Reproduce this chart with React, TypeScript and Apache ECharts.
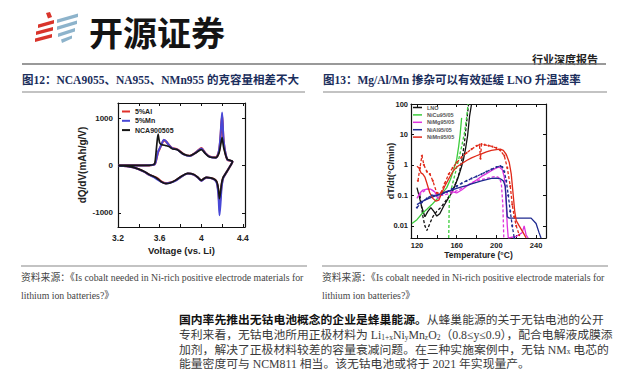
import React, { useEffect, useRef } from "react";
import * as echarts from "echarts";

// ---------- Figure 12 data (dQ/dV vs voltage) ----------
const chargeV = [3.2, 3.3, 3.4, 3.5, 3.55, 3.56, 3.57, 3.585, 3.6, 3.62, 3.64, 3.66, 3.69, 3.72, 3.77, 3.83, 3.89, 3.95, 4.0, 4.04, 4.08, 4.14, 4.17, 4.185, 4.2, 4.215, 4.25, 4.3];
const alCharge = [0, 0, 0, 3, 20, 60, 150, 280, 350, 450, 530, 510, 430, 370, 340, 240, 205, 280, 365, 260, 190, 170, 300, 600, 1060, 500, 120, 85];
const mnCharge = [0, 0, 0, 3, 20, 60, 150, 290, 360, 460, 545, 515, 430, 365, 335, 235, 200, 275, 360, 255, 185, 165, 320, 650, 1120, 520, 125, 85];
const ncaCharge = [0, 0, 0, 3, 30, 150, 380, 662, 480, 440, 430, 420, 400, 355, 330, 240, 205, 270, 335, 250, 180, 165, 260, 420, 590, 380, 130, 85];

const dischargeV = [4.3, 4.27, 4.24, 4.21, 4.195, 4.185, 4.175, 4.165, 4.15, 4.13, 4.09, 4.05, 4.02, 4.0, 3.97, 3.93, 3.87, 3.81, 3.75, 3.7, 3.66, 3.62, 3.58, 3.54, 3.5, 3.45, 3.4, 3.35, 3.3, 3.25, 3.2];
const alDischarge = [85, -40, -150, -260, -420, -620, -850, -560, -360, -300, -265, -255, -290, -320, -260, -195, -170, -232, -320, -360, -375, -345, -275, -235, -195, -130, -80, -42, -20, -10, -5];
const mnDischarge = [85, -40, -150, -270, -480, -800, -1050, -640, -380, -305, -268, -255, -292, -325, -262, -198, -172, -235, -325, -365, -380, -350, -300, -240, -198, -132, -82, -44, -21, -10, -5];
const ncaDischarge = [85, -40, -150, -250, -380, -560, -700, -500, -350, -295, -262, -250, -285, -315, -255, -190, -168, -228, -315, -370, -385, -350, -280, -230, -190, -125, -78, -40, -18, -9, -4];

const voltTicks = [3.2, 3.4, 3.6, 3.8, 4.0, 4.2, 4.4];
const voltLabels = [3.2, 3.6, 4.0, 4.4];
const dqdvLabels = [-1000, 0, 1000];

// ---------- Figure 13 data (dT/dt vs temperature) ----------
const lnoT = [120, 122, 125, 128, 131, 134, 137, 140, 143, 147, 151, 155, 158, 161, 163, 165, 167, 169, 171, 173, 175];
const lnoV = [0.18, 0.1, 0.04, 0.02, 0.03, 0.04, 0.03, 0.021, 0.025, 0.045, 0.075, 0.12, 0.2, 0.35, 0.55, 0.9, 1.6, 3.5, 9, 40, 100];
const lnoDT = [123, 126, 128, 130, 133, 136, 140, 144, 148, 152, 156, 160, 163, 166, 168, 170, 172];
const lnoDV = [0.1, 0.02, 0.01, 0.007, 0.012, 0.02, 0.03, 0.04, 0.06, 0.09, 0.15, 0.3, 0.6, 2, 6, 25, 100];

const cuT = [115, 120, 125, 130, 135, 140, 145, 150, 154, 157, 160, 162, 163.5, 165];
const cuV = [0.012, 0.016, 0.025, 0.035, 0.05, 0.075, 0.11, 0.18, 0.35, 0.7, 1.5, 4, 10, 35];
const cuDT = [152, 152.5, 153, 156, 159, 162, 165, 168, 170, 171.5];
const cuDV = [0.004, 0.05, 0.1, 0.25, 0.6, 1.5, 4, 12, 35, 100];

const mgT = [120, 123, 126, 130, 134, 138, 141, 144, 148, 152, 156, 160, 165, 170, 175, 180, 185, 190, 195, 200, 203, 206, 208, 209.5, 211, 212, 220, 226, 228, 230, 232];
const mgV = [0.08, 0.12, 0.15, 0.16, 0.16, 0.13, 0.08, 0.1, 0.13, 0.14, 0.13, 0.12, 0.15, 0.2, 0.25, 0.32, 0.42, 0.52, 0.65, 0.8, 0.85, 0.7, 0.4, 0.1, 0.01, 0.004, 0.0045, 0.006, 0.01, 0.005, 0.004];
const mgDT = [122, 126, 130, 135, 140, 145, 150, 155, 160, 165, 170, 175, 180, 185, 190, 195, 200, 203, 205, 206.5, 207.5];
const mgDV = [0.1, 0.13, 0.16, 0.15, 0.12, 0.1, 0.11, 0.12, 0.14, 0.17, 0.21, 0.26, 0.3, 0.33, 0.36, 0.4, 0.42, 0.38, 0.25, 0.05, 0.004];

const alT = [120, 124, 128, 132, 136, 140, 145, 150, 155, 160, 165, 170, 175, 180, 185, 190, 195, 200, 204, 207, 209, 211, 213, 235, 240, 243, 245];
const alV = [0.05, 0.06, 0.07, 0.08, 0.09, 0.1, 0.12, 0.13, 0.15, 0.17, 0.19, 0.21, 0.24, 0.27, 0.3, 0.33, 0.36, 0.37, 0.35, 0.3, 0.2, 0.02, 0.018, 0.018, 0.012, 0.006, 0.004];
const alDT = [120, 125, 130, 135, 140, 145, 150, 155, 160, 165, 170, 175, 180, 185, 190, 195, 200, 204, 206, 208, 210, 212, 214, 216, 218];
const alDV = [0.04, 0.06, 0.08, 0.1, 0.1, 0.11, 0.13, 0.16, 0.2, 0.25, 0.3, 0.36, 0.42, 0.5, 0.6, 0.72, 0.85, 0.92, 0.85, 0.6, 0.3, 0.1, 0.03, 0.01, 0.004];

const mnT = [120, 122, 124, 126, 128, 130, 133, 136, 139, 142, 145, 148, 152, 156, 160, 165, 170, 175, 180, 185, 190, 195, 200, 204, 207, 210, 213, 215, 217, 218.5, 220, 223, 227, 230];
const mnV = [0.9, 0.8, 0.55, 0.5, 0.4, 0.25, 0.12, 0.08, 0.065, 0.07, 0.12, 0.2, 0.35, 0.6, 0.85, 1.1, 1.4, 1.7, 2.0, 2.3, 2.7, 3.0, 3.2, 3.3, 3.0, 2.2, 1.2, 0.5, 0.1, 0.03, 0.015, 0.01, 0.006, 0.004];
const mnDT = [121, 123, 125, 127, 130, 133, 136, 140, 144, 148, 152, 156, 160, 165, 170, 175, 180, 183, 184, 185, 188, 192, 196, 200, 204, 208, 211, 214, 216, 218, 220, 223];
const mnDV = [0.3, 0.8, 2.0, 1.0, 0.6, 0.5, 0.3, 0.12, 0.12, 0.25, 0.5, 0.8, 1.2, 1.8, 2.5, 3.3, 4.2, 4.6, 1.6, 4.8, 4.6, 4.3, 4.0, 3.6, 3.0, 2.0, 0.8, 0.2, 0.05, 0.02, 0.01, 0.005];

const tempTicks = [120, 140, 160, 180, 200, 220, 240];
const tempLabels = [120, 160, 200, 240];
const rateLabels = [0.01, 0.1, 1, 10, 100];

// ---------- text ----------
const title12 = "图12：NCA9055、NA955、NMn955 的克容量相差不大";
const title13 = "图13：Mg/Al/Mn 掺杂可以有效延缓 LNO 升温速率";
const source1 = "资料来源：《Is cobalt needed in Ni-rich positive electrode materials for";
const source2 = "lithium ion batteries?》";

const SANS = "'Liberation Sans', Arial, sans-serif";
const SERIF_CJK = "'Liberation Serif', 'Noto Sans CJK SC', serif";
const CJK = "'Noto Sans CJK SC', sans-serif";

const pairs = (xs: number[], ys: number[]) => xs.map((x, i) => [x, ys[i]]);

function App() {
  const ref = useRef<HTMLDivElement>(null);
  useEffect(() => {
    if (!ref.current) return;
    const chart = echarts.init(ref.current, null, { renderer: "svg" });

    const axisLine = { show: true, onZero: false, lineStyle: { color: "#111", width: 1.2 } };
    const tickStyle = { color: "#111", width: 1 };

    const leftSeries = (name: string, color: string, cy: number[], dy: number[], w: number) => ({
      name,
      type: "line",
      xAxisIndex: 0,
      yAxisIndex: 0,
      data: pairs(chargeV, cy).concat(pairs(dischargeV, dy)),
      showSymbol: false,
      smooth: 0.25,
      color,
      itemStyle: { color },
      lineStyle: { color, width: w },
    });

    const rightSeries = (name: string, color: string, xs: number[], ys: number[], dashed: boolean, dots = false) => ({
      name,
      type: "line",
      xAxisIndex: 2,
      yAxisIndex: 2,
      data: pairs(xs, ys),
      showSymbol: dots,
      symbol: "circle",
      symbolSize: 2,
      color,
      itemStyle: { color },
      lineStyle: { color, width: 1.3, type: dashed ? [3, 2] : "solid" },
    });

    const cLno = "#111111", cCu = "#3ccc3c", cMg = "#dd33dd", cAl = "#1f2a90", cMn = "#e02a1a";

    const xBase = (grid: number, min: number, max: number, ticks: number[]) => ({
      gridIndex: grid,
      type: "value",
      min,
      max,
      axisLine,
      splitLine: { show: false },
      axisTick: { show: true, inside: true, length: 3, customValues: ticks, lineStyle: tickStyle },
    });

    const option: any = {
      animation: false,
      backgroundColor: "#ffffff",
      grid: [
        { left: 118, top: 103, width: 127, height: 124, outerBoundsMode: "none" },
        { left: 411, top: 104, width: 135, height: 134, outerBoundsMode: "none" },
      ],
      xAxis: [
        {
          ...xBase(0, 3.2, 4.42, voltTicks),
          position: "bottom",
          axisLabel: {
            customValues: voltLabels,
            formatter: (v: number) => String(Math.round(v * 10) / 10),
            fontSize: 8.5, fontWeight: "bold", color: "#222", fontFamily: SANS, margin: 6,
          },
          name: "Voltage (vs. Li)",
          nameLocation: "middle",
          nameGap: 18,
          nameMoveOverlap: false,
          nameTextStyle: { fontSize: 9.5, fontWeight: "bold", color: "#222", fontFamily: SANS },
        },
        { ...xBase(0, 3.2, 4.42, voltTicks), position: "top", axisLabel: { show: false } },
        {
          ...xBase(1, 114, 250, tempTicks),
          position: "bottom",
          axisLabel: {
            customValues: tempLabels,
            formatter: (v: number) => String(v),
            fontSize: 7.5, fontWeight: "bold", color: "#222", fontFamily: SANS, margin: 3,
          },
          name: "Temperature (°C)",
          nameLocation: "middle",
          nameGap: 12,
          nameMoveOverlap: false,
          nameTextStyle: { fontSize: 8.5, fontWeight: "bold", color: "#222", fontFamily: SANS },
        },
        { ...xBase(1, 114, 250, tempTicks), position: "top", axisLabel: { show: false } },
      ],
      yAxis: [
        {
          ...xBase(0, -1300, 1320, dqdvLabels),
          position: "left",
          axisLabel: {
            customValues: dqdvLabels,
            formatter: (v: number) => String(v),
            fontSize: 8, fontWeight: "bold", color: "#222", fontFamily: SANS, margin: 5,
          },
          name: "dQ/dV(mAh/g/V)",
          nameLocation: "middle",
          nameGap: 31,
          nameMoveOverlap: false,
          nameTextStyle: { fontSize: 10, fontWeight: "bold", color: "#222", fontFamily: SANS },
        },
        { ...xBase(0, -1300, 1320, dqdvLabels), position: "right", axisLabel: { show: false } },
        {
          gridIndex: 1,
          type: "log",
          logBase: 10,
          min: 0.004,
          max: 100,
          position: "left",
          axisLine,
          splitLine: { show: false },
          minorTick: { show: false },
          axisTick: { show: true, inside: true, length: 3, customValues: rateLabels, lineStyle: tickStyle },
          axisLabel: {
            customValues: rateLabels,
            formatter: (v: number) => String(v),
            fontSize: 7.5, fontWeight: "bold", color: "#222", fontFamily: SANS, margin: 3,
          },
          name: "dT/dt(°C/min)",
          nameLocation: "middle",
          nameGap: 16,
          nameMoveOverlap: false,
          nameTextStyle: { fontSize: 9, fontWeight: "bold", color: "#222", fontFamily: SANS },
        },
        {
          gridIndex: 1,
          type: "log",
          logBase: 10,
          min: 0.004,
          max: 100,
          position: "right",
          axisLine,
          splitLine: { show: false },
          axisTick: { show: true, inside: true, length: 3, customValues: rateLabels, lineStyle: tickStyle },
          axisLabel: { show: false },
        },
      ],
      legend: [
        {
          data: ["5%Al", "5%Mn", "NCA900505"],
          left: 122,
          top: 108,
          orient: "vertical",
          padding: 0,
          itemWidth: 8,
          itemHeight: 2,
          itemGap: 2.3,
          icon: "rect",
          selectedMode: false,
          textStyle: { fontSize: 7, fontWeight: "bold", color: "#222", fontFamily: SANS },
        },
        {
          data: ["LNO", "NiCu95/05", "NiMg95/05", "NiAl95/05", "NiMn95/05"],
          left: 413,
          top: 104.5,
          orient: "vertical",
          padding: 0,
          itemWidth: 9,
          itemHeight: 1.5,
          itemGap: 1.4,
          icon: "rect",
          selectedMode: false,
          textStyle: { fontSize: 5.5, fontWeight: "bold", color: "#555", fontFamily: SANS },
        },
      ],
      series: [
        leftSeries("5%Al", "#e0312b", alCharge, alDischarge, 2.2),
        leftSeries("5%Mn", "#4848d6", mnCharge, mnDischarge, 2),
        leftSeries("NCA900505", "#161616", ncaCharge, ncaDischarge, 1.7),

        rightSeries("LNO", cLno, lnoT, lnoV, false),
        rightSeries("LNO-dash", cLno, lnoDT, lnoDV, true),
        rightSeries("NiCu95/05", cCu, cuT, cuV, false),
        rightSeries("NiCu-dash", cCu, cuDT, cuDV, true),
        rightSeries("NiMg95/05", cMg, mgT, mgV, false),
        rightSeries("NiMg-dash", cMg, mgDT, mgDV, true),
        rightSeries("NiAl95/05", cAl, alT, alV, false),
        rightSeries("NiAl-dash", cAl, alDT, alDV, true, true),
        rightSeries("NiMn95/05", cMn, mnT, mnV, false),
        rightSeries("NiMn-dash", cMn, mnDT, mnDV, true, true),
      ],
      graphic: [
        // logo mark
        { type: "polygon", shape: { points: [[46, 13], [50, 12], [52, 17], [48, 18.5]] }, style: { fill: "#d9342b" } },
        { type: "polygon", shape: { points: [[38, 24.5], [54, 20], [54, 23.5], [38, 28]] }, style: { fill: "#d9342b" } },
        { type: "polygon", shape: { points: [[36, 31.5], [53, 27], [53, 30.5], [36, 35]] }, style: { fill: "#d9342b" } },
        { type: "polygon", shape: { points: [[35, 38.5], [52, 34], [52, 37.5], [35, 42]] }, style: { fill: "#d9342b" } },
        { type: "polygon", shape: { points: [[57, 19.5], [78, 13.5], [78, 17], [57, 23]] }, style: { fill: "#8db3cb" } },
        { type: "polygon", shape: { points: [[57, 26.5], [77, 20.5], [77, 24], [57, 30]] }, style: { fill: "#8db3cb" } },
        { type: "polygon", shape: { points: [[58, 33.5], [75, 28], [75, 31.5], [58, 37]] }, style: { fill: "#8db3cb" } },
        { type: "polygon", shape: { points: [[61, 39.5], [72, 35.5], [72, 38.5], [62, 43]] }, style: { fill: "#8db3cb" } },
        {
          type: "text", x: 89, y: 31.5,
          style: { text: "开源证券", fontFamily: CJK, fontSize: 34, fontWeight: "bold", fill: "#141414", verticalAlign: "middle" },
        },
        {
          type: "text", x: 598, y: 58.5,
          style: { text: "行业深度报告", fontFamily: CJK, fontSize: 11, fontWeight: "bold", fill: "#222", align: "right", verticalAlign: "middle" },
        },
        // rules
        { type: "line", shape: { x1: 22, y1: 64, x2: 606, y2: 64 }, style: { stroke: "#777", lineWidth: 1.3 } },
        { type: "line", shape: { x1: 22, y1: 92, x2: 305, y2: 92 }, style: { stroke: "#888", lineWidth: 1.2 } },
        { type: "line", shape: { x1: 323, y1: 92, x2: 607, y2: 92 }, style: { stroke: "#888", lineWidth: 1.2 } },
        { type: "line", shape: { x1: 21, y1: 266, x2: 307, y2: 266 }, style: { stroke: "#888", lineWidth: 1.2 } },
        { type: "line", shape: { x1: 322, y1: 266, x2: 608, y2: 266 }, style: { stroke: "#888", lineWidth: 1.2 } },
        // titles
        {
          type: "text", x: 22, y: 80,
          style: { text: title12, fontFamily: SERIF_CJK, fontSize: 11.5, fontWeight: "bold", fill: "#1b2e5c", verticalAlign: "middle" },
        },
        {
          type: "text", x: 323, y: 80,
          style: { text: title13, fontFamily: SERIF_CJK, fontSize: 11.5, fontWeight: "bold", fill: "#1b2e5c", verticalAlign: "middle" },
        },
        // sources
        { type: "text", x: 21, y: 277, style: { text: source1, fontFamily: SERIF_CJK, fontSize: 9.8, fill: "#444", verticalAlign: "middle" } },
        { type: "text", x: 21, y: 295, style: { text: source2, fontFamily: SERIF_CJK, fontSize: 9.8, fill: "#444", verticalAlign: "middle" } },
        { type: "text", x: 322, y: 277, style: { text: source1, fontFamily: SERIF_CJK, fontSize: 9.8, fill: "#444", verticalAlign: "middle" } },
        { type: "text", x: 322, y: 295, style: { text: source2, fontFamily: SERIF_CJK, fontSize: 9.8, fill: "#444", verticalAlign: "middle" } },
        // body paragraph
        {
          type: "text", x: 179, y: 320,
          style: {
            text: "{b|国内率先推出无钴电池概念的企业是蜂巢能源。}从蜂巢能源的关于无钴电池的公开",
            fontFamily: SERIF_CJK, fontSize: 11.8, fill: "#3a3a3a", verticalAlign: "middle",
            rich: { b: { fontWeight: "bold", fill: "#111", color: "#111", fontSize: 11.8, fontFamily: SERIF_CJK } },
          },
        },
        {
          type: "text", x: 179, y: 335,
          style: {
            text: "专利来看，无钴电池所用正极材料为 Li{s|1+x}Ni{s|y}Mn{s|z}O{s|2}（0.8≤y≤0.9），配合电解液成膜添",
            fontFamily: SERIF_CJK, fontSize: 11.8, fill: "#3a3a3a", verticalAlign: "middle",
            rich: { s: { fontSize: 7.5, verticalAlign: "bottom", fill: "#3a3a3a", color: "#3a3a3a", fontFamily: SERIF_CJK } },
          },
        },
        {
          type: "text", x: 179, y: 349.5,
          style: {
            text: "加剂，解决了正极材料较差的容量衰减问题。在三种实施案例中，无钴 NM{s|x} 电芯的",
            fontFamily: SERIF_CJK, fontSize: 11.8, fill: "#3a3a3a", verticalAlign: "middle",
            rich: { s: { fontSize: 7.5, verticalAlign: "bottom", fill: "#3a3a3a", color: "#3a3a3a", fontFamily: SERIF_CJK } },
          },
        },
        {
          type: "text", x: 179, y: 364,
          style: {
            text: "能量密度可与 NCM811 相当。该无钴电池或将于 2021 年实现量产。",
            fontFamily: SERIF_CJK, fontSize: 11.8, fill: "#3a3a3a", verticalAlign: "middle",
          },
        },
      ],
    };

    chart.setOption(option);
    return () => chart.dispose();
  }, []);

  return (
    <div
      ref={ref}
      style={{ position: "fixed", left: 0, top: 0, width: 640, height: 385, background: "#fff" }}
    />
  );
}

export default App;
